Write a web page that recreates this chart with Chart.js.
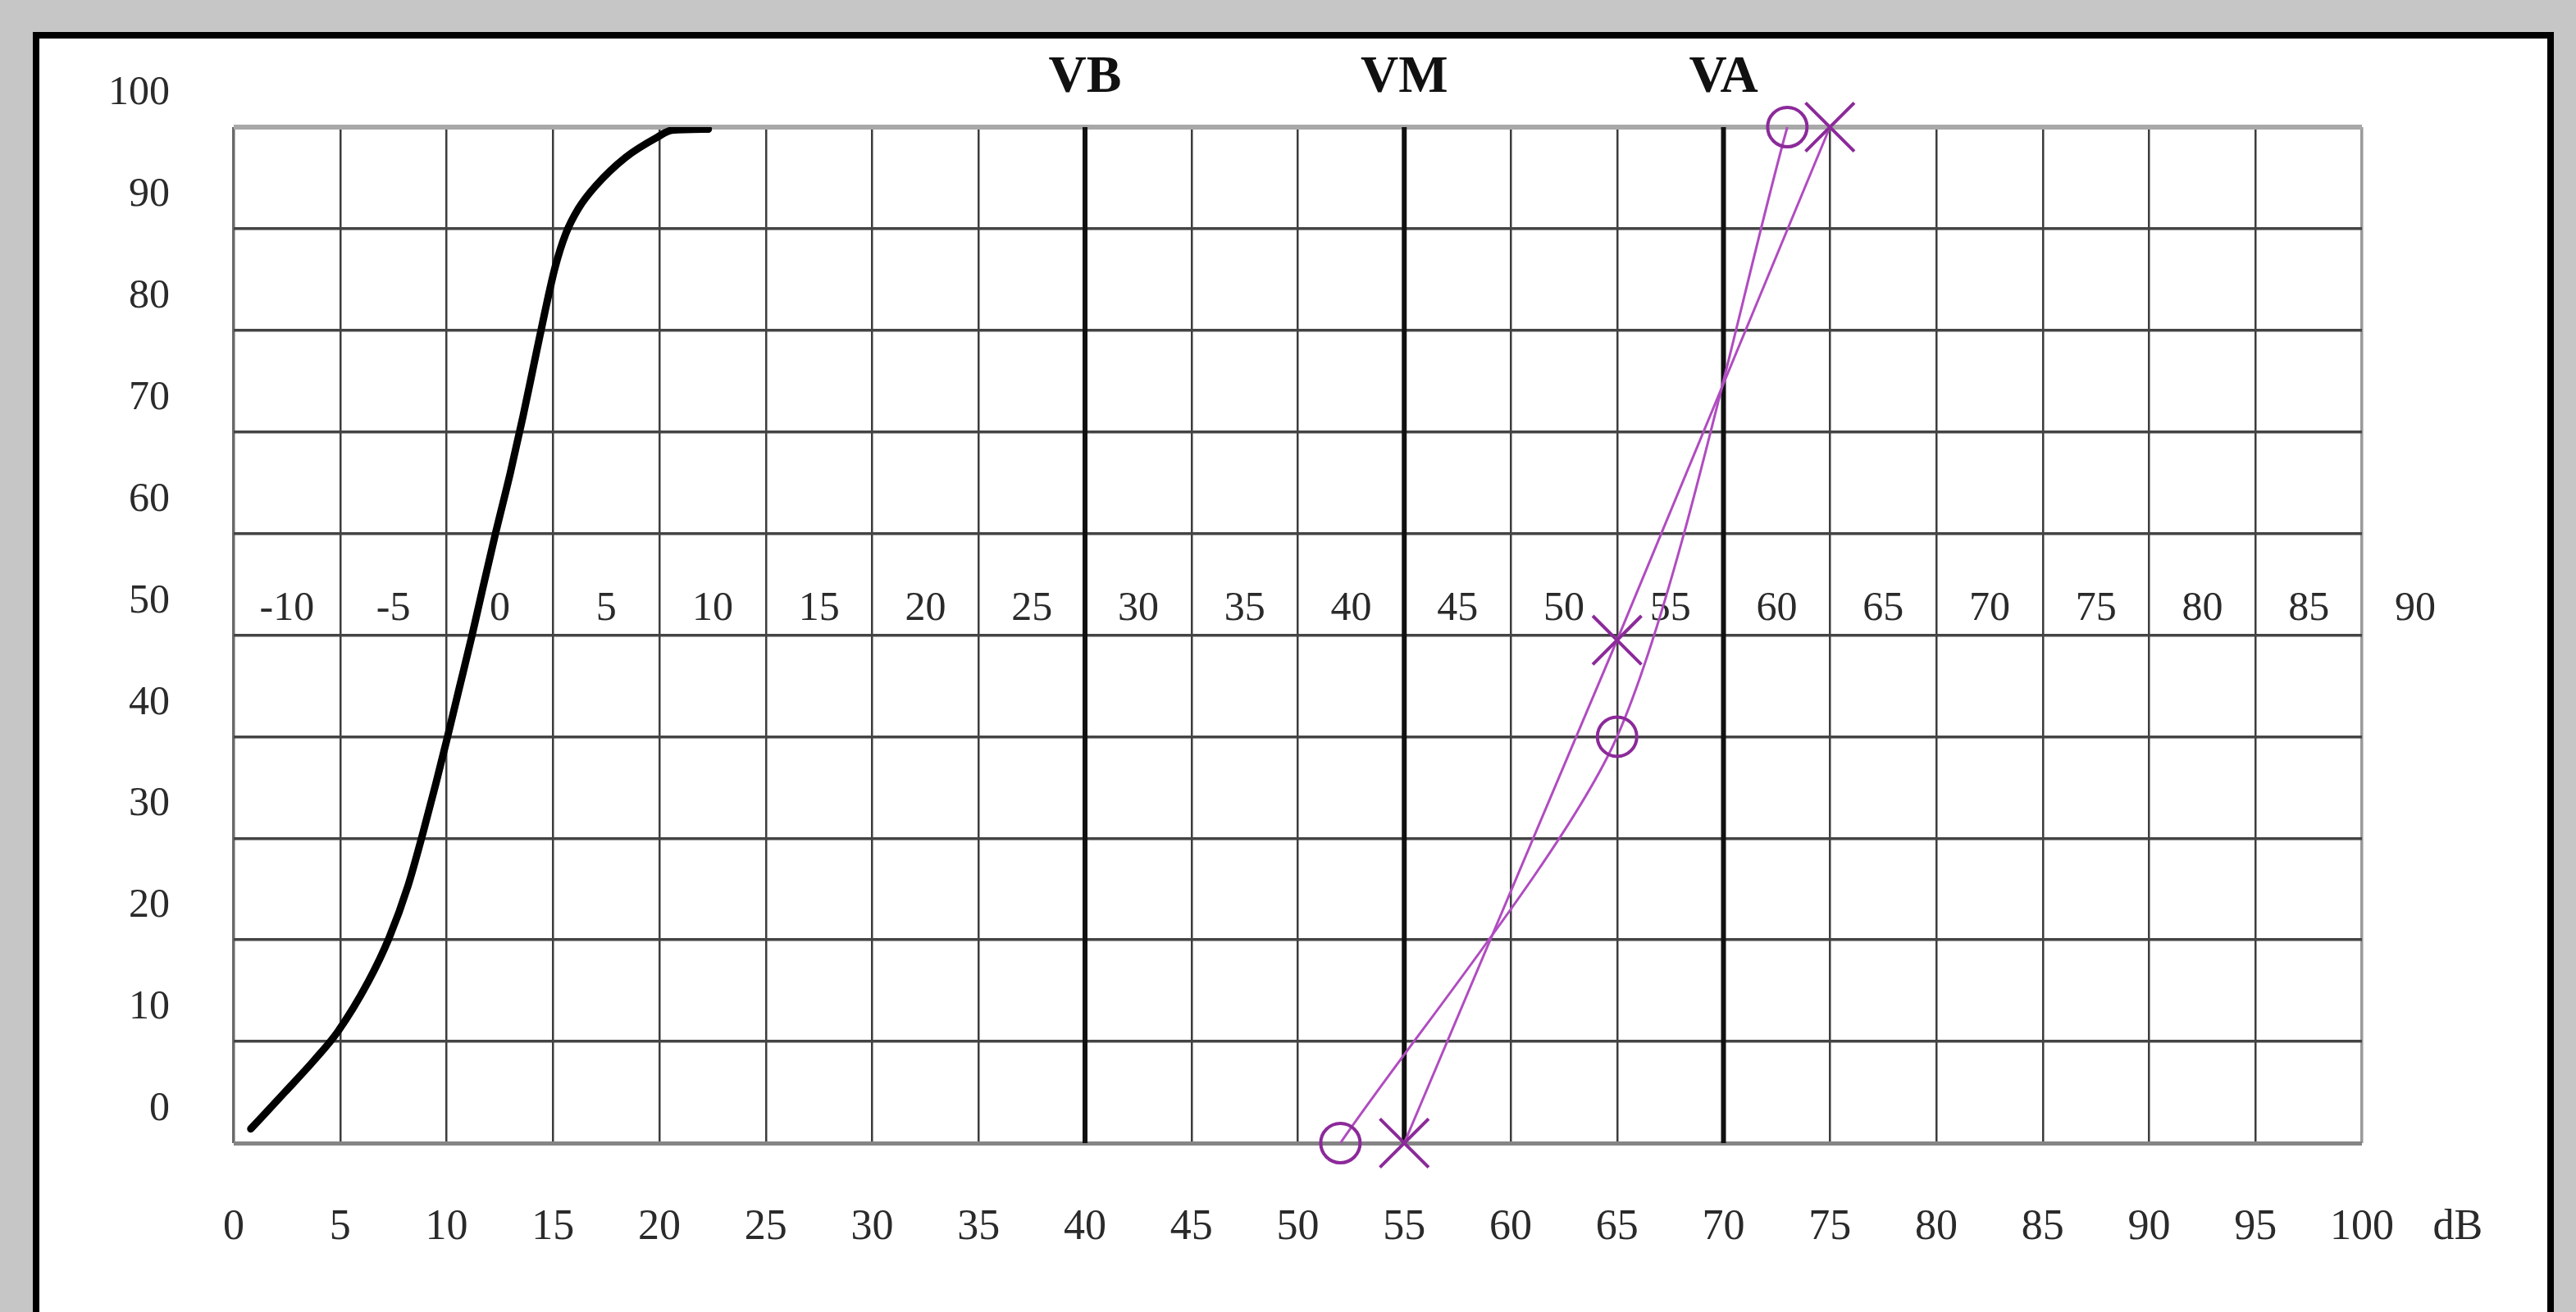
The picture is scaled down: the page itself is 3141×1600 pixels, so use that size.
<!DOCTYPE html>
<html>
<head>
<meta charset="utf-8">
<script src="https://cdn.jsdelivr.net/npm/chart.js@4.4.1/dist/chart.umd.min.js"></script>
<style>
  html, body { margin: 0; padding: 0; overflow: hidden; }
  body { width: 3141px; height: 1600px; background: #c6c6c6; position: relative; }
  #sheet {
    position: absolute; left: 40px; top: 39px;
    width: 3074px; height: 1640px;
    box-sizing: border-box; border: 8px solid #000; background: #fff;
  }
  #chart { position: absolute; left: 0; top: 0; }
</style>
</head>
<body>
<div id="sheet">
  <canvas id="chart" width="3058" height="1553"></canvas>
</div>
<script>
// axis ticks
const dbTicks = [0, 5, 10, 15, 20, 25, 30, 35, 40, 45, 50, 55, 60, 65, 70, 75, 80, 85, 90, 95, 100];
const pctTicks = [0, 10, 20, 30, 40, 50, 60, 70, 80, 90, 100];
const hlTicks = [-10, -5, 0, 5, 10, 15, 20, 25, 30, 35, 40, 45, 50, 55, 60, 65, 70, 75, 80, 85, 90];
const unitLabel = "dB";

// reference levels drawn as thick vertical lines
const refNames = ["VB", "VM", "VA"];
const refLevels = [40, 55, 70];

// normal curve (thick black)
const normalX = [0.8, 2.4, 3.8, 4.9, 6.3, 7.3, 8.2, 8.9, 9.5, 10.0, 10.6, 11.2, 11.7, 12.3, 13.0, 13.6, 14.1, 14.6, 15.1, 15.6, 16.2, 17.0, 18.4, 19.9, 20.6, 22.3];
const normalY = [1.4, 5.0, 8.2, 11.0, 15.8, 20.2, 25.4, 30.6, 35.4, 39.6, 44.8, 50.0, 54.6, 60.0, 66.0, 71.6, 76.6, 81.6, 86.2, 89.5, 92.0, 94.2, 97.0, 99.0, 99.7, 99.8];

// patient curves (purple), circles and crosses
const circleX = [52, 65, 73];
const circleY = [0, 40, 100];
const crossX = [55, 65, 75];
const crossY = [0, 49.5, 100];

const pts = (xs, ys) => xs.map((x, i) => ({ x: x, y: ys[i] }));

const serif = "'Liberation Serif', 'Times New Roman', serif";
const textColor = "#2a2a2a";

const refDatasets = refLevels.map((lv, i) => ({
    label: refNames[i],
    data: [{ x: lv, y: 0 }, { x: lv, y: 100 }],
    borderColor: "#111",
    borderWidth: 6,
    pointRadius: 0,
    tension: 0,
}));

const ctx = document.getElementById("chart").getContext("2d");
new Chart(ctx, {
    type: "line",
    data: {
        datasets: [
            {
                label: "O",
                data: pts(circleX, circleY),
                borderColor: "#b04cc0",
                borderWidth: 3,
                tension: 0.25,
                pointStyle: "circle",
                pointRadius: 24,
                pointBorderWidth: 4,
                pointBorderColor: "#8c2a9a",
                pointBackgroundColor: "rgba(0,0,0,0)",
                clip: false,
            },
            {
                label: "X",
                data: pts(crossX, crossY),
                borderColor: "#b04cc0",
                borderWidth: 3,
                tension: 0,
                pointStyle: "crossRot",
                pointRadius: 42,
                pointBorderWidth: 4,
                pointBorderColor: "#8c2a9a",
                clip: false,
            },
            {
                label: "normal",
                data: pts(normalX, normalY),
                borderColor: "#000",
                borderWidth: 9,
                cubicInterpolationMode: "monotone",
                pointRadius: 0,
                borderCapStyle: "round",
            },
            ...refDatasets,
        ]
    },
    options: {
        responsive: false,
        animation: false,
        events: [],
        layout: { padding: { left: 0, top: 0, right: 226, bottom: 0 } },
        plugins: {
            legend: { display: false },
            tooltip: { enabled: false },
        },
        scales: {
            x: {
                type: "linear",
                position: "bottom",
                min: 0,
                max: 100,
                afterBuildTicks: (s) => {
                    s.ticks = dbTicks.concat([104.5]).map(v => ({ value: v }));
                },
                afterFit: (s) => { s.height = 206; },
                border: { display: false },
                grid: {
                    drawTicks: false,
                    color: (c) => {
                        const v = c.tick ? c.tick.value : 50;
                        if (v > 100) return "rgba(0,0,0,0)";
                        if (v === 0) return "#6a6a6a";
                        if (v === 100) return "#9a9a9a";
                        return "#3c3c3c";
                    },
                    lineWidth: (c) => {
                        const v = c.tick ? c.tick.value : 50;
                        if (v > 100) return 0;
                        return v === 0 || v === 100 ? 3.5 : 2.5;
                    },
                },
                ticks: {
                    autoSkip: false,
                    maxRotation: 0,
                    padding: 72,
                    color: textColor,
                    font: { family: serif, size: 52 },
                    callback: (v) => v > 100 ? unitLabel : v,
                },
            },
            x2: {
                type: "linear",
                axis: "x",
                position: { y: 55 },
                min: -12.5,
                max: 87.5,
                afterBuildTicks: (s) => {
                    s.ticks = hlTicks.map(v => ({ value: v }));
                },
                border: { display: false },
                grid: { display: false, drawTicks: false },
                ticks: {
                    autoSkip: false,
                    maxRotation: 0,
                    padding: 0,
                    color: textColor,
                    font: { family: serif, size: 50 },
                },
            },
            xTop: {
                type: "linear",
                axis: "x",
                position: "top",
                min: 0,
                max: 100,
                afterBuildTicks: (s) => {
                    s.ticks = refLevels.map(v => ({ value: v }));
                },
                afterFit: (s) => { s.height = 104; },
                border: { display: false },
                grid: { display: false, drawTicks: false },
                ticks: {
                    autoSkip: false,
                    maxRotation: 0,
                    padding: 21,
                    color: "#111",
                    font: { family: serif, size: 64, weight: "bold" },
                    callback: (v) => refNames[refLevels.indexOf(v)],
                },
            },
            y: {
                type: "linear",
                position: "left",
                min: 0,
                max: 100,
                afterBuildTicks: (s) => {
                    s.ticks = pctTicks.map(v => ({ value: v }));
                },
                afterFit: (s) => { s.width = 237; },
                border: { display: false },
                grid: {
                    drawTicks: false,
                    color: (c) => c.tick && c.tick.value === 100 ? "#a8a8a8" : (c.tick && c.tick.value === 0 ? "#858585" : "#444"),
                    lineWidth: (c) => c.tick && c.tick.value === 100 ? 6 : (c.tick && c.tick.value === 0 ? 5 : 3.5),
                },
                ticks: {
                    padding: 78,
                    labelOffset: -41,
                    color: textColor,
                    font: { family: serif, size: 50 },
                },
            },
        },
    },
});
</script>
</body>
</html>
